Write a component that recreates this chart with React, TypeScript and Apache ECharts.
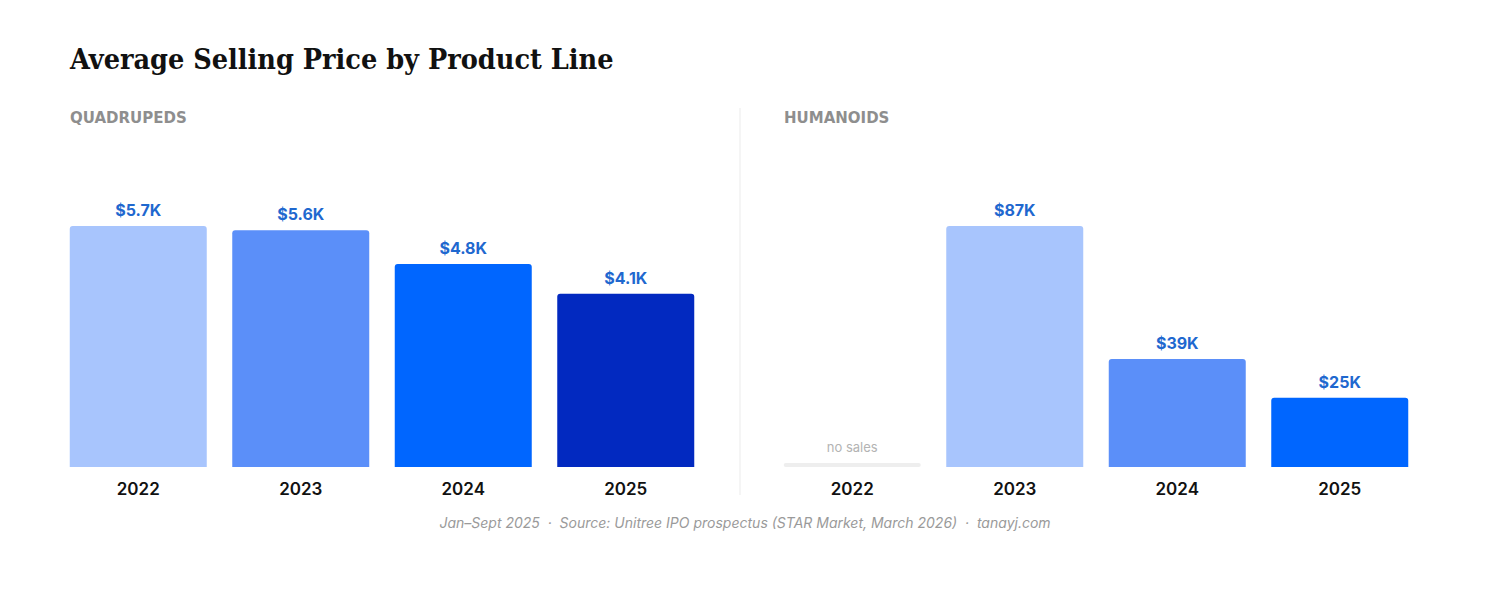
import React, { useEffect, useRef } from "react";
import * as echarts from "echarts";

const years = ["2022", "2023", "2024", "2025"];
const quadrupedAsp = [5.7, 5.6, 4.8, 4.1]; // $K
const humanoidAsp: (number | null)[] = [null, 87, 39, 25]; // $K, null = no sales
const barColors = ["#a8c5fd", "#5b8ff9", "#0066ff", "#0229c0"];

const titleText = "Average Selling Price by Product Line";
const leftLabel = "QUADRUPEDS";
const rightLabel = "HUMANOIDS";
const footerText =
  "Jan\u2013Sept 2025  \u00b7  Source: Unitree IPO prospectus (STAR Market, March 2026)  \u00b7  tanayj.com";

const SANS = "Inter, 'Noto Sans', sans-serif";
const LABEL_BLUE = "#1f68cf";

export default function App() {
  const ref = useRef<HTMLDivElement>(null);

  useEffect(() => {
    document.body.style.margin = "0";
    if (!ref.current) return;
    const chart = echarts.init(ref.current, undefined, { renderer: "svg" });

    const topRatio = 0.8142;
    let hIdx = 0;
    const humanoidColors = humanoidAsp.map((v) => (v == null ? "#eeeeee" : barColors[hIdx++]));

    const catAxis = (gi: number) => ({
      type: "category" as const,
      gridIndex: gi,
      data: years,
      axisLine: { show: false },
      axisTick: { show: false },
      axisLabel: { color: "#111", fontSize: 17, fontWeight: 600, fontFamily: SANS, margin: 13 },
    });
    const valAxis = (gi: number) => ({
      type: "value" as const,
      gridIndex: gi,
      min: 0,
      max: (e: { max: number }) => e.max / topRatio,
      show: false,
      splitLine: { show: false },
    });

    const labelStyle = {
      show: true,
      position: "top" as const,
      distance: 8,
      color: LABEL_BLUE,
      fontSize: 16,
      fontWeight: 700,
      fontFamily: SANS,
    };

    const noSalesData = humanoidAsp
      .map((v, i) => (v == null ? [i, 0] : null))
      .filter((d) => d !== null);

    const panelLabelStyle = {
      fontFamily: "'DejaVu Sans', Inter, sans-serif",
      fontWeight: 700,
      fontSize: 15,
      color: "#8e8e8e",
    };

    chart.setOption({
      animation: false,
      backgroundColor: "#ffffff",
      title: [
        {
          text: titleText,
          left: 70,
          top: 44,
          padding: 0,
          textStyle: {
            fontFamily: "'DejaVu Serif Condensed', 'DejaVu Serif', serif",
            fontWeight: 700,
            fontSize: 28.5,
            color: "#111",
          },
        },
        { text: leftLabel, left: 70, top: 110, padding: 0, textStyle: panelLabelStyle },
        { text: rightLabel, left: 784, top: 110, padding: 0, textStyle: panelLabelStyle },
        {
          text: footerText,
          left: "center",
          top: 515,
          padding: 0,
          textStyle: {
            fontFamily: SANS,
            fontStyle: "italic",
            fontWeight: 400,
            fontSize: 14,
            color: "#9a9a9a",
          },
        },
      ],
      graphic: [
        {
          type: "line",
          shape: { x1: 740, y1: 108, x2: 740, y2: 495 },
          style: { stroke: "#ebebeb", lineWidth: 1 },
        },
      ],
      grid: [
        { left: 57, top: 171, width: 650, height: 296 },
        { left: 771, top: 171, width: 650, height: 296 },
      ],
      xAxis: [catAxis(0), catAxis(1)],
      yAxis: [valAxis(0), valAxis(1)],
      series: [
        {
          type: "bar",
          xAxisIndex: 0,
          yAxisIndex: 0,
          barWidth: 137,
          data: quadrupedAsp.map((v, i) => ({
            value: v,
            itemStyle: { color: barColors[i], borderRadius: [3, 3, 0, 0] },
          })),
          label: { ...labelStyle, formatter: (p: any) => `$${Number(p.value).toFixed(1)}K` },
        },
        {
          type: "bar",
          xAxisIndex: 1,
          yAxisIndex: 1,
          barWidth: 137,
          data: humanoidAsp.map((v, i) =>
            v == null
              ? "-"
              : { value: v, itemStyle: { color: humanoidColors[i], borderRadius: [3, 3, 0, 0] } }
          ),
          label: { ...labelStyle, formatter: (p: any) => `$${p.value}K` },
        },
        {
          type: "custom",
          xAxisIndex: 1,
          yAxisIndex: 1,
          data: noSalesData,
          encode: { x: 0, y: 1 },
          renderItem: (params: any, api: any) => {
            const pt = api.coord([api.value(0), 0]);
            const w = 137;
            return {
              type: "group",
              children: [
                {
                  type: "rect",
                  shape: { x: pt[0] - w / 2, y: pt[1] - 4, width: w, height: 4, r: 2 },
                  style: { fill: "#eeeeee" },
                },
                {
                  type: "text",
                  x: pt[0],
                  y: pt[1] - 20,
                  style: {
                    text: "no sales",
                    fill: "#b3b3b3",
                    fontSize: 13,
                    fontFamily: SANS,
                    align: "center",
                    verticalAlign: "middle",
                  },
                },
              ],
            };
          },
        },
      ],
    });

    return () => chart.dispose();
  }, []);

  return <div ref={ref} style={{ width: 1490, height: 594 }} />;
}
